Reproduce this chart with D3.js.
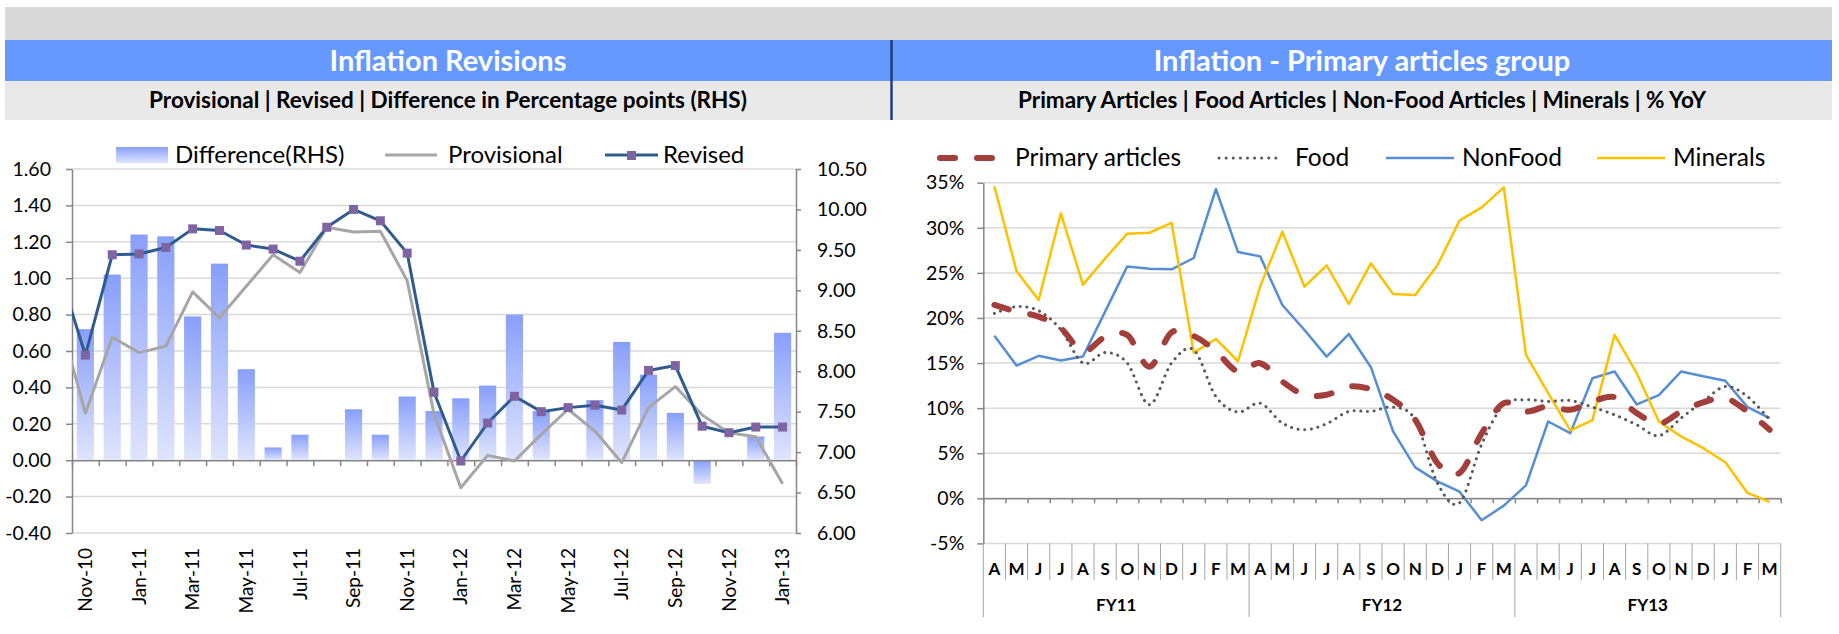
<!DOCTYPE html>
<html>
<head>
<meta charset="utf-8">
<script src="https://cdn.jsdelivr.net/npm/d3@7"></script>
<style>
  body { margin: 0; background: #fff; }
  svg { display: block; font-family: Lato, "Open Sans", sans-serif; }
</style>
</head>
<body>
<script>
var svgWidth = 1839;
var svgHeight = 634;

// ---- left chart: inflation revisions ----
var revMonths = ["Nov-10", "Dec-10", "Jan-11", "Feb-11", "Mar-11", "Apr-11", "May-11", "Jun-11", "Jul-11",
  "Aug-11", "Sep-11", "Oct-11", "Nov-11", "Dec-11", "Jan-12", "Feb-12", "Mar-12", "Apr-12", "May-12",
  "Jun-12", "Jul-12", "Aug-12", "Sep-12", "Oct-12", "Nov-12", "Dec-12", "Jan-13"];
var provisional = [7.48, 8.42, 8.23, 8.31, 8.98, 8.66, 9.05, 9.44, 9.22, 9.78, 9.72, 9.73, 9.12, 7.47,
  6.56, 6.96, 6.89, 7.22, 7.53, 7.26, 6.87, 7.55, 7.81, 7.46, 7.24, 7.19, 6.61];
var revised = [8.20, 9.44, 9.45, 9.53, 9.76, 9.74, 9.56, 9.51, 9.36, 9.78, 10.00, 9.86, 9.46, 7.74,
  6.89, 7.36, 7.69, 7.50, 7.55, 7.58, 7.52, 8.01, 8.07, 7.32, 7.24, 7.31, 7.31];
var difference = [0.72, 1.02, 1.24, 1.23, 0.79, 1.08, 0.50, 0.07, 0.14, 0, 0.28, 0.14, 0.35, 0.27,
  0.34, 0.41, 0.80, 0.27, 0, 0.33, 0.65, 0.47, 0.26, -0.13, 0, 0.13, 0.70];
// Oct-10 values: the lines come in from outside the plot
var priorProvisional = 8.70;
var priorRevised = 9.26;

// ---- right chart: primary articles ----
var fyMonths = ["A", "M", "J", "J", "A", "S", "O", "N", "D", "J", "F", "M"];
var fiscalYears = ["FY11", "FY12", "FY13"];
var primary = [21.44, 20.7, 20.15, 18.86, 16.3, 17.9, 18.1, 14.6, 18.4, 18.0, 16.3, 14.06,
  14.98, 12.95, 11.48, 11.48, 12.4, 12.1, 10.92, 8.71, 3.91, 2.8, 7.2, 10.55,
  9.63, 10.2, 9.82, 10.74, 11.22, 9.45, 8.27, 9.63, 10.63, 11.1, 9.63, 7.6];
var food = [20.5, 21.25, 20.8, 18.7, 15.0, 16.16, 15.0, 10.37, 15.0, 16.46, 11.29, 9.56,
  10.55, 8.34, 7.6, 8.27, 9.63, 9.63, 10.11, 8.71, 1.7, -0.5, 6.0, 10.37,
  10.92, 10.74, 10.85, 10.11, 9.26, 8.15, 6.94, 8.89, 10.74, 12.4, 11.29, 8.71];
var nonFood = [18.04, 14.72, 15.8, 15.28, 15.72, 20.7, 25.72, 25.47, 25.4, 26.65, 34.3, 27.31,
  26.83, 21.44, 18.67, 15.71, 18.22, 14.54, 7.42, 3.43, 1.88, 0.74, -2.44, -0.81,
  1.44, 8.52, 7.23, 13.32, 14.06, 10.41, 11.44, 14.06, 13.54, 13.03, 10.11, 8.9];
var minerals = [34.6, 25.2, 22.0, 31.6, 23.7, 26.6, 29.35, 29.45, 30.55, 16.15, 17.67, 15.2,
  23.5, 29.57, 23.47, 25.84, 21.55, 26.06, 22.66, 22.55, 25.84, 30.79, 32.27, 34.48,
  15.9, 11.66, 7.53, 8.67, 18.12, 13.87, 8.52, 6.86, 5.57, 4.0, 0.6, -0.4];

var axisColor = "#868686";
var gridColor = "#d9d9d9";

var svg = d3.select("body")
  .append("svg")
  .attr("width", svgWidth)
  .attr("height", svgHeight);

var defs = svg.append("defs");
var grad = defs.append("linearGradient")
  .attr("id", "barGrad")
  .attr("x1", 0).attr("y1", 0).attr("x2", 0).attr("y2", 1);
grad.append("stop").attr("offset", "0%").attr("stop-color", "#889ffa");
grad.append("stop").attr("offset", "100%").attr("stop-color", "#dfe5fd");

// ---- header bands ----
svg.append("rect").attr("x", 5).attr("y", 7).attr("width", 1827).attr("height", 34).attr("fill", "#d9d9d9");
var panels = [
  {x0: 5, x1: 891, title: "Inflation Revisions", sub: "Provisional | Revised | Difference in Percentage points (RHS)"},
  {x0: 892, x1: 1832, title: "Inflation - Primary articles group", sub: "Primary Articles | Food Articles | Non-Food Articles | Minerals | % YoY"}
];
panels.forEach(function (p) {
  svg.append("rect").attr("x", p.x0).attr("y", 40).attr("width", p.x1 - p.x0).attr("height", 41).attr("fill", "#6699ff");
  svg.append("rect").attr("x", p.x0).attr("y", 81).attr("width", p.x1 - p.x0).attr("height", 39).attr("fill", "#e9e9e9");
  svg.append("text")
    .attr("x", (p.x0 + p.x1) / 2).attr("y", 71)
    .attr("text-anchor", "middle")
    .attr("font-size", "29px").attr("font-weight", "bold").attr("fill", "#fff")
    .text(p.title);
  svg.append("text")
    .attr("x", (p.x0 + p.x1) / 2).attr("y", 108)
    .attr("text-anchor", "middle")
    .attr("font-size", "22.5px").attr("font-weight", "bold").attr("fill", "#000")
    .text(p.sub);
});
svg.append("line").attr("x1", 891.5).attr("x2", 891.5).attr("y1", 40).attr("y2", 120)
  .attr("stroke", "#1f3f7a").attr("stroke-width", 2.5);

// ================= LEFT CHART =================
var L = {left: 72, right: 796, top: 169, bottom: 533};
var xL = d3.scaleLinear().domain([-0.5, revMonths.length - 0.5]).range([L.left, L.right]);
var yDiff = d3.scaleLinear().domain([-0.4, 1.6]).range([L.bottom, L.top]);
var yRate = d3.scaleLinear().domain([6, 10.5]).range([L.bottom, L.top]);
var step = xL(1) - xL(0);

var left = svg.append("g");
defs.append("clipPath").attr("id", "clipL")
  .append("rect").attr("x", L.left).attr("y", L.top - 10).attr("width", L.right - L.left).attr("height", L.bottom - L.top + 20);

var diffTicks = d3.ticks(-0.4, 1.6, 10);
left.append("g").selectAll("line")
  .data(diffTicks)
  .enter().append("line")
  .attr("x1", L.left).attr("x2", L.right)
  .attr("y1", d => yDiff(d)).attr("y2", d => yDiff(d))
  .attr("stroke", gridColor).attr("stroke-width", 1.5);

// bars (zero months get no height)
left.append("g").selectAll("rect")
  .data(difference)
  .enter().append("rect")
  .attr("x", (d, i) => xL(i) - step * 0.32)
  .attr("width", step * 0.64)
  .attr("y", d => Math.min(yDiff(d), yDiff(0)))
  .attr("height", d => Math.abs(yDiff(d) - yDiff(0)))
  .attr("fill", "url(#barGrad)");

// axes
var leftAxis = d3.axisLeft(yDiff).tickValues(diffTicks).tickFormat(d => d.toFixed(2)).tickSize(6).tickSizeOuter(0);
var rightAxis = d3.axisRight(yRate).tickValues(d3.ticks(6, 10.5, 9)).tickFormat(d => d.toFixed(2)).tickSize(5).tickSizeOuter(0);
var bottomAxis = d3.axisBottom(xL).tickValues(d3.range(-0.5, revMonths.length, 1)).tickFormat("").tickSize(6).tickSizeOuter(0);

var gl = left.append("g").attr("transform", `translate(${L.left},0)`).call(leftAxis);
var gr = left.append("g").attr("transform", `translate(${L.right},0)`).call(rightAxis);
var gb = left.append("g").attr("transform", `translate(0,${yDiff(0)})`).call(bottomAxis);
[gl, gr, gb].forEach(function (g) {
  g.select(".domain").attr("stroke", axisColor).attr("stroke-width", 1.5);
  g.selectAll(".tick line").attr("stroke", axisColor).attr("stroke-width", 1.5);
  g.selectAll("text").attr("font-size", "19.5px").attr("fill", "#000").attr("font-family", "Lato, sans-serif");
});
gl.selectAll("text").attr("x", -21);
gr.selectAll("text").attr("x", 21);

// x labels every second month
left.append("g").selectAll("text")
  .data(revMonths)
  .enter().append("text")
  .attr("transform", (d, i) => `translate(${xL(i)},548) rotate(-90)`)
  .attr("text-anchor", "end")
  .attr("dy", "0.35em")
  .attr("font-size", "19px")
  .text((d, i) => i % 2 === 0 ? d : "");

// lines
var provData = [{i: -1, v: priorProvisional}].concat(provisional.map((v, i) => ({i: i, v: v})));
var revData = [{i: -1, v: priorRevised}].concat(revised.map((v, i) => ({i: i, v: v})));
var rateLine = d3.line().x(d => xL(d.i)).y(d => yRate(d.v));
var linesL = left.append("g").attr("clip-path", "url(#clipL)");
linesL.append("path").datum(provData).attr("d", rateLine)
  .attr("fill", "none").attr("stroke", "#a6a6a6").attr("stroke-width", 3).attr("stroke-linejoin", "round");
linesL.append("path").datum(revData).attr("d", rateLine)
  .attr("fill", "none").attr("stroke", "#2f5c8f").attr("stroke-width", 3).attr("stroke-linejoin", "round");
left.append("g").selectAll("rect")
  .data(revised)
  .enter().append("rect")
  .attr("x", (d, i) => xL(i) - 4.5).attr("y", d => yRate(d) - 4.5)
  .attr("width", 9).attr("height", 9)
  .attr("fill", "#8064a2");

// legend
var legL = left.append("g").attr("font-size", "24px");
legL.append("rect").attr("x", 116).attr("y", 147).attr("width", 52).attr("height", 16).attr("fill", "url(#barGrad)");
legL.append("text").attr("x", 175).attr("y", 163).text("Difference(RHS)");
legL.append("line").attr("x1", 385).attr("x2", 437).attr("y1", 155).attr("y2", 155).attr("stroke", "#a6a6a6").attr("stroke-width", 3);
legL.append("text").attr("x", 448).attr("y", 163).text("Provisional");
legL.append("line").attr("x1", 605).attr("x2", 658).attr("y1", 155).attr("y2", 155).attr("stroke", "#2f5c8f").attr("stroke-width", 3);
legL.append("rect").attr("x", 627).attr("y", 151).attr("width", 9).attr("height", 9).attr("fill", "#8064a2");
legL.append("text").attr("x", 663).attr("y", 163).text("Revised");

// ================= RIGHT CHART =================
var R = {left: 983.3, right: 1780.7, top: 182.7, bottom: 543.4};
var nR = primary.length;
var xR = d3.scaleLinear().domain([-0.5, nR - 0.5]).range([R.left, R.right]);
var yPct = d3.scaleLinear().domain([-5, 35]).range([R.bottom, R.top]);
var right = svg.append("g");

var pctTicks = d3.range(-5, 36, 5);
right.append("g").selectAll("line")
  .data(pctTicks)
  .enter().append("line")
  .attr("x1", R.left).attr("x2", R.right)
  .attr("y1", d => yPct(d)).attr("y2", d => yPct(d))
  .attr("stroke", gridColor).attr("stroke-width", 1.5);

var pctAxis = d3.axisLeft(yPct).tickValues(pctTicks).tickFormat(d => d + "%").tickSize(6).tickSizeOuter(0);
var catAxis = d3.axisBottom(xR).tickValues(d3.range(-0.5, nR, 1)).tickFormat("").tickSize(5).tickSizeOuter(0);
var gp = right.append("g").attr("transform", `translate(${R.left},0)`).call(pctAxis);
var gc = right.append("g").attr("transform", `translate(0,${yPct(0)})`).call(catAxis);
[gp, gc].forEach(function (g) {
  g.select(".domain").attr("stroke", axisColor).attr("stroke-width", 1.5);
  g.selectAll(".tick line").attr("stroke", axisColor).attr("stroke-width", 1.5);
  g.selectAll("text").attr("font-size", "19.5px").attr("fill", "#000").attr("font-family", "Lato, sans-serif");
});
gp.selectAll("text").attr("x", -19);

// multi-level category labels
var catG = right.append("g");
catG.selectAll("line")
  .data(d3.range(0, nR + 1))
  .enter().append("line")
  .attr("x1", d => xR(d - 0.5)).attr("x2", d => xR(d - 0.5))
  .attr("y1", R.bottom)
  .attr("y2", d => d % 12 === 0 ? 617 : 580)
  .attr("stroke", "#a6a6a6").attr("stroke-width", 1);
catG.selectAll("text.m")
  .data(d3.range(0, nR))
  .enter().append("text")
  .attr("class", "m")
  .attr("x", d => xR(d)).attr("y", 575)
  .attr("text-anchor", "middle")
  .attr("font-size", "17px").attr("font-weight", "bold")
  .text(d => fyMonths[d % 12]);
catG.selectAll("text.fy")
  .data(fiscalYears)
  .enter().append("text")
  .attr("class", "fy")
  .attr("x", (d, i) => xR(i * 12 + 5.5)).attr("y", 611)
  .attr("text-anchor", "middle")
  .attr("font-size", "17px").attr("font-weight", "bold")
  .text(d => d);

// series
var straight = d3.line().x((d, i) => xR(i)).y(d => yPct(d));
var smooth = d3.line().x((d, i) => xR(i)).y(d => yPct(d)).curve(d3.curveCatmullRom.alpha(0));
right.append("path").datum(nonFood).attr("d", straight)
  .attr("fill", "none").attr("stroke", "#558ed5").attr("stroke-width", 2.5).attr("stroke-linejoin", "round");
right.append("path").datum(minerals).attr("d", straight)
  .attr("fill", "none").attr("stroke", "#ffc000").attr("stroke-width", 2.5).attr("stroke-linejoin", "round");
right.append("path").datum(food).attr("d", smooth)
  .attr("fill", "none").attr("stroke", "#595959").attr("stroke-width", 3)
  .attr("stroke-linecap", "round").attr("stroke-dasharray", "0.1,6.6");
right.append("path").datum(primary).attr("d", smooth)
  .attr("fill", "none").attr("stroke", "#a33f3b").attr("stroke-width", 6)
  .attr("stroke-linecap", "round").attr("stroke-dasharray", "15,22");

// legend
var legR = right.append("g").attr("font-size", "24.5px");
legR.append("line").attr("x1", 940).attr("x2", 992).attr("y1", 158).attr("y2", 158)
  .attr("stroke", "#a33f3b").attr("stroke-width", 6).attr("stroke-linecap", "round").attr("stroke-dasharray", "15,22");
legR.append("text").attr("x", 1015).attr("y", 166).text("Primary articles");
legR.append("line").attr("x1", 1219).attr("x2", 1282).attr("y1", 158).attr("y2", 158)
  .attr("stroke", "#595959").attr("stroke-width", 3).attr("stroke-linecap", "round").attr("stroke-dasharray", "0.1,7");
legR.append("text").attr("x", 1295).attr("y", 166).text("Food");
legR.append("line").attr("x1", 1386).attr("x2", 1454).attr("y1", 158).attr("y2", 158)
  .attr("stroke", "#558ed5").attr("stroke-width", 2.5);
legR.append("text").attr("x", 1462).attr("y", 166).text("NonFood");
legR.append("line").attr("x1", 1597).attr("x2", 1665).attr("y1", 158).attr("y2", 158)
  .attr("stroke", "#ffc000").attr("stroke-width", 2.5);
legR.append("text").attr("x", 1673).attr("y", 166).text("Minerals");
</script>
</body>
</html>
